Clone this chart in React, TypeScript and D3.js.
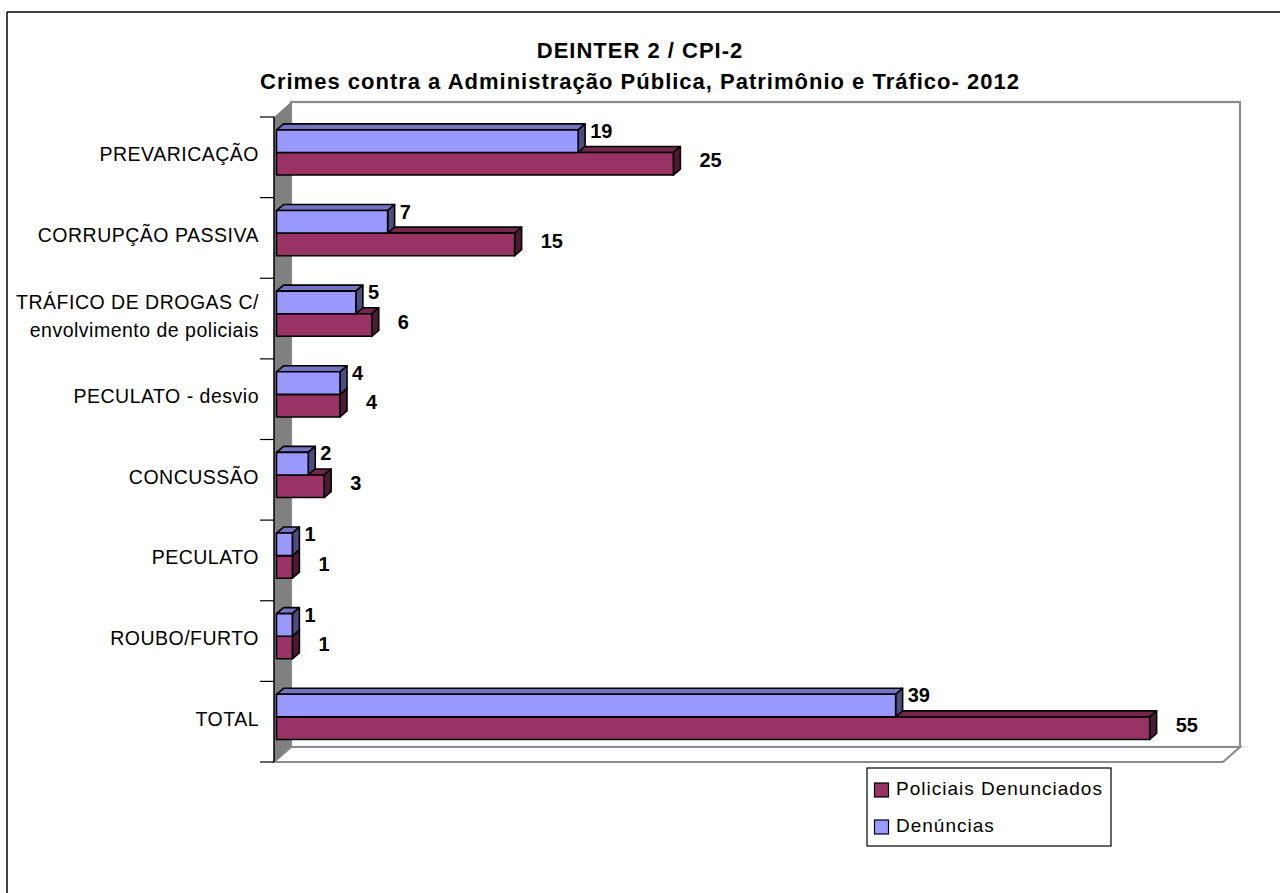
import React from "react";
import * as d3 from "d3";

const categories = [
  "PREVARICAÇÃO",
  "CORRUPÇÃO PASSIVA",
  "TRÁFICO DE DROGAS C/\nenvolvimento de policiais",
  "PECULATO - desvio",
  "CONCUSSÃO",
  "PECULATO",
  "ROUBO/FURTO",
  "TOTAL",
];
const denuncias = [19, 7, 5, 4, 2, 1, 1, 39];
const policiais = [25, 15, 6, 4, 3, 1, 1, 55];
const seriesNames = ["Policiais Denunciados", "Denúncias"];
const titleLines = [
  "DEINTER 2 / CPI-2",
  "Crimes contra a Administração Pública, Patrimônio e Tráfico- 2012",
];
const xDomainMax = 60;

const W = 1280;
const H = 893;
const FONT = "'Liberation Sans', Arial, Helvetica, sans-serif";

const plot = { left: 274, top: 117, right: 1223, bottom: 762 };
const depth = { dx: 17, dy: 15 };
const barDepth = { dx: 7, dy: 6 };

const colors = {
  red: { front: "#993366", top: "#74264d", side: "#4d1a33" },
  blue: { front: "#9999ff", top: "#7373c0", side: "#4d4d80" },
};

function Bar({ x0, x1, y0, h, c }: { x0: number; x1: number; y0: number; h: number; c: { front: string; top: string; side: string } }) {
  const { dx, dy } = barDepth;
  const top = `${x0},${y0} ${x0 + dx},${y0 - dy} ${x1 + dx},${y0 - dy} ${x1},${y0}`;
  const side = `${x1},${y0} ${x1 + dx},${y0 - dy} ${x1 + dx},${y0 + h - dy} ${x1},${y0 + h}`;
  return (
    <g stroke="#000" strokeWidth={1.6} strokeLinejoin="round">
      <polygon points={top} fill={c.top} />
      <polygon points={side} fill={c.side} />
      <rect x={x0} y={y0} width={x1 - x0} height={h} fill={c.front} />
    </g>
  );
}

export default function App() {
  const y = d3.scaleBand<string>().domain(categories).range([plot.top, plot.bottom]).paddingInner(0).paddingOuter(0);
  const bw = y.bandwidth();
  const x = d3.scaleLinear().domain([0, xDomainMax]).range([plot.left + 2.5, 1229]);

  const barH = bw * 0.28;
  const groupOff = bw * 0.16;

  const backL = plot.left + depth.dx;
  const backT = plot.top - depth.dy;
  const backR = plot.right + depth.dx;
  const backB = plot.bottom - depth.dy;

  const ticks = d3.range(categories.length + 1).map((i) => plot.top + i * bw);

  return (
    <svg width={W} height={H} style={{ position: "absolute", left: 0, top: 0 }} fontFamily={FONT}>
      <rect x={0} y={0} width={W} height={H} fill="#fff" />
      {/* outer frame */}
      <line x1={7} y1={12} x2={W} y2={12} stroke="#000" strokeWidth={1.5} />
      <line x1={7} y1={12} x2={7} y2={H} stroke="#000" strokeWidth={1.5} />

      {/* title */}
      <g fontWeight="bold" fontSize={22} textAnchor="middle" fill="#000" letterSpacing={1}>
        <text x={640} y={58}>{titleLines[0]}</text>
        <text x={640} y={89}>{titleLines[1]}</text>
      </g>

      {/* back wall */}
      <rect x={backL} y={backT} width={backR - backL} height={backB - backT} fill="#fff" stroke="#8c8c8c" strokeWidth={2.2} />
      {/* floor */}
      <polygon
        points={`${plot.left},${plot.bottom} ${plot.right},${plot.bottom} ${backR},${backB} ${backL},${backB}`}
        fill="#fff"
        stroke="#8c8c8c"
        strokeWidth={2.2}
      />
      {/* side wall */}
      <polygon
        points={`${plot.left},${plot.top} ${backL},${backT} ${backL},${backB} ${plot.left},${plot.bottom}`}
        fill="#808080"
      />
      {/* axis */}
      <line x1={plot.left} y1={plot.top} x2={plot.left} y2={plot.bottom} stroke="#000" strokeWidth={1.5} />
      {ticks.map((t, i) => (
        <line key={i} x1={260} y1={t} x2={plot.left} y2={t} stroke="#000" strokeWidth={1.2} />
      ))}

      {/* category labels */}
      <g fontSize={19.5} textAnchor="end" fill="#000" letterSpacing={0.5}>
        {categories.map((c, i) => {
          const lines = c.split("\n");
          const cy = (y(c) as number) + bw / 2 - 3;
          const lh = 28;
          const first = cy - ((lines.length - 1) * lh) / 2 + 7;
          return (
            <text key={i} x={259} y={first}>
              {lines.map((l, j) => (
                <tspan key={j} x={259} dy={j === 0 ? 0 : lh}>
                  {l}
                </tspan>
              ))}
            </text>
          );
        })}
      </g>

      {/* bars */}
      {categories.map((c, i) => {
        const y0 = (y(c) as number) + groupOff;
        return (
          <g key={i}>
            <Bar x0={x(0)} x1={x(policiais[i])} y0={y0 + barH} h={barH} c={colors.red} />
            <Bar x0={x(0)} x1={x(denuncias[i])} y0={y0} h={barH} c={colors.blue} />
          </g>
        );
      })}

      {/* value labels */}
      <g fontSize={20} fontWeight="bold" fill="#000">
        {categories.map((c, i) => {
          const y0 = (y(c) as number) + groupOff;
          return (
            <g key={i}>
              <text x={x(denuncias[i]) + 12} y={y0 + 8}>{denuncias[i]}</text>
              <text x={x(policiais[i]) + 26} y={y0 + barH + 15}>{policiais[i]}</text>
            </g>
          );
        })}
      </g>

      {/* legend */}
      <rect x={867} y={768} width={244} height={78} fill="#fff" stroke="#000" strokeWidth={1.2} />
      {seriesNames.map((s, i) => (
        <g key={s}>
          <rect x={874.5} y={783 + i * 37} width={14} height={14} fill={i === 0 ? colors.red.front : colors.blue.front} stroke="#000" strokeWidth={1.2} />
          <text x={896} y={795 + i * 37} fontSize={19} letterSpacing={1} fill="#000">{s}</text>
        </g>
      ))}
    </svg>
  );
}
